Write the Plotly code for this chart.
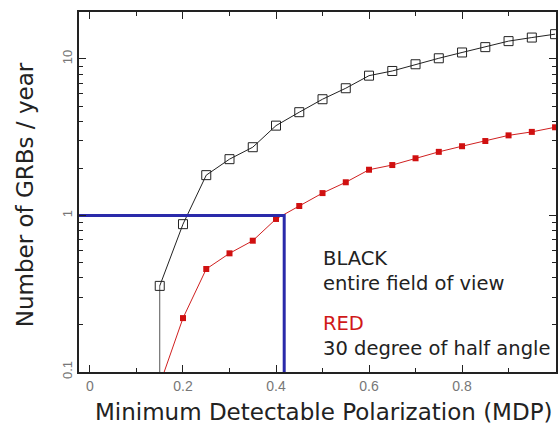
import plotly.graph_objects as go

mdp = [0.15, 0.2, 0.25, 0.3, 0.35, 0.4, 0.45, 0.5, 0.55, 0.6, 0.65, 0.7, 0.75, 0.8, 0.85, 0.9, 0.95, 1.0]
black_vals = [0.355, 0.88, 1.81, 2.29, 2.73, 3.75, 4.57, 5.53, 6.5, 7.82, 8.38, 9.25, 10.1, 11.0, 11.9, 13.0, 13.7, 14.4]
red_vals = [0.083, 0.221, 0.455, 0.573, 0.69, 0.95, 1.15, 1.39, 1.63, 1.96, 2.10, 2.32, 2.55, 2.77, 2.99, 3.25, 3.42, 3.66]
# black curve drops to zero below MDP = 0.15 (drawn as a vertical line)
black_drop_x = [0.15]
black_drop_y = [1e-6]

threshold_rate = 1.0
threshold_mdp = 0.4176
x_min, x_max = -0.0236, 1.002
y_log_range = [-1, 1.30]

x_ticks = [0, 0.2, 0.4, 0.6, 0.8, 1.0]
x_ticklabels = ["0", "0.2", "0.4", "0.6", "0.8", "1"]
y_ticks = [0.1, 1, 10]
y_ticklabels = ["0.1", "1", "10"]
y_minor = [0.2, 0.3, 0.4, 0.5, 0.6, 0.7, 0.8, 0.9, 2, 3, 4, 5, 6, 7, 8, 9]

FONT = "Liberation Sans, Arial, sans-serif"
WIDE = "DejaVu Sans, Verdana, sans-serif"

fig = go.Figure()

fig.add_trace(go.Scatter(x=black_drop_x + mdp[:1], y=black_drop_y + black_vals[:1], mode="lines",
                         line=dict(color="#555555", width=1), showlegend=False, hoverinfo="skip"))
fig.add_trace(go.Scatter(x=mdp, y=black_vals, mode="lines+markers",
                         line=dict(color="#222222", width=1),
                         marker=dict(symbol="square-open", size=9, color="#222222", line=dict(width=1)),
                         showlegend=False))
fig.add_trace(go.Scatter(x=mdp, y=red_vals, mode="lines+markers",
                         line=dict(color="#d02020", width=1),
                         marker=dict(symbol="square", size=6, color="#d01010"),
                         showlegend=False))
fig.add_trace(go.Scatter(x=[x_min, threshold_mdp, threshold_mdp], y=[threshold_rate, threshold_rate, 0.1],
                         mode="lines", line=dict(color="#2a2aaa", width=3), showlegend=False))

fig.update_layout(
    width=558, height=427,
    margin=dict(l=79, r=0, t=12, b=55),
    paper_bgcolor="white", plot_bgcolor="white",
    font=dict(family=FONT, color="#222222"),
    xaxis=dict(range=[x_min, x_max], tickvals=x_ticks, ticktext=x_ticklabels,
               ticks="inside", ticklen=7, tickwidth=1.2, tickcolor="#222222",
               minor=dict(tickvals=[0.1, 0.3, 0.5, 0.7, 0.9], ticks="inside", ticklen=4, tickcolor="#222222"),
               showline=True, linecolor="#222222", linewidth=1.5, mirror="ticks",
               showgrid=False, zeroline=False,
               tickfont=dict(size=14, color="#777777")),
    yaxis=dict(type="log", range=y_log_range, tickvals=y_ticks, ticktext=y_ticklabels,
               tickangle=-90, ticks="inside", ticklen=7, tickwidth=1.2, tickcolor="#222222",
               minor=dict(tickvals=y_minor, ticks="inside", ticklen=4, tickcolor="#222222", showgrid=False),
               showline=True, linecolor="#222222", linewidth=1.5, mirror="ticks",
               showgrid=False, zeroline=False,
               tickfont=dict(size=13, color="#777777")),
)

fig.add_annotation(text="Minimum Detectable Polarization (MDP)", xref="paper", yref="paper",
                   x=(325 - 79) / 479, y=(372 - 412) / 360, xanchor="center", yanchor="middle", showarrow=False,
                   font=dict(size=23, family=WIDE, color="#222222"))
fig.add_annotation(text="Number of GRBs / year", xref="paper", yref="paper",
                   x=(25 - 79) / 479, y=(372 - 195) / 360, textangle=-90, xanchor="center", yanchor="middle",
                   showarrow=False, font=dict(size=23, family=WIDE, color="#222222"))

labels = [("BLACK", "#222222", 258), ("entire field of view", "#222222", 283),
          ("RED", "#d01818", 323), ("30 degree of half angle", "#222222", 348)]
for txt, col, py in labels:
    fig.add_annotation(text=txt, xref="paper", yref="paper",
                       x=(322 - 79) / 479, y=(372 - py) / 360,
                       xanchor="left", yanchor="middle", showarrow=False,
                       font=dict(size=19.5, family=WIDE, color=col))

fig.write_html("out.html")
